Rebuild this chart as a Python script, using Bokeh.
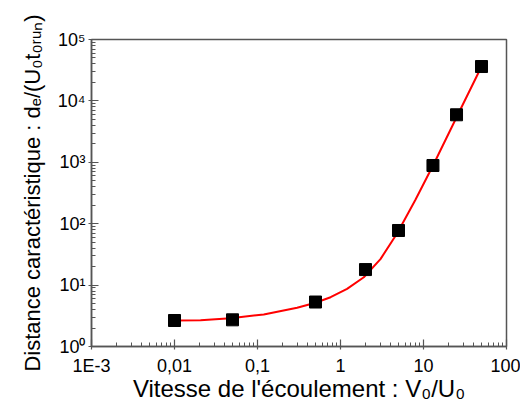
from bokeh.plotting import figure
from bokeh.models import FixedTicker, CustomJSTickFormatter, Range1d
from bokeh.embed import file_html
from bokeh.resources import INLINE

# ---- data ----
vitesse = [0.01, 0.05, 0.5, 2.0, 5.0, 13.0, 25.0, 50.0]
distance = [2.65, 2.72, 5.3, 17.9, 77.5, 887.0, 5940.0, 36300.0]

fit_x = [0.01, 0.0206, 0.0473, 0.119, 0.30, 0.5, 0.76, 1.2, 1.91, 3.03, 4.82, 8.0, 13.2, 25.9, 38.6, 50.0]
fit_y = [2.65, 2.68, 2.89, 3.32, 4.27, 5.15, 6.35, 8.7, 13.4, 26.5, 70.0, 245.0, 920.0, 5940.0, 17800.0, 36300.0]

x_ticks = [1e-3, 1e-2, 1e-1, 1.0, 10.0, 100.0]
x_tick_labels = ["1E-3", "0,01", "0,1", "1", "10", "100"]
y_ticks = [1.0, 10.0, 100.0, 1e3, 1e4, 1e5]

x_title = "Vitesse de l'\u00e9coulement : V\u2080/U\u2080"
y_title = "Distance caract\u00e9ristique : d\u2091/(U\u2080t\u2080\u1d63\u1d64\u2099)"

x_minor = [m * t for t in x_ticks[:-1] for m in range(2, 10)]
y_minor = [m * t for t in y_ticks[:-1] for m in range(2, 10)]

FONT = "Liberation Sans"
AXIS_COLOR = "#555555"

W, H = 520, 415
p = figure(width=W, height=H, x_axis_type="log", y_axis_type="log",
           x_range=Range1d(1e-3, 100), y_range=Range1d(1, 1e5),
           output_backend="svg", toolbar_location=None,
           min_border_left=91, min_border_right=14, min_border_top=39, min_border_bottom=69)
p.background_fill_color = "white"
p.border_fill_color = "white"
p.grid.visible = False
p.outline_line_color = AXIS_COLOR
p.outline_line_width = 1.5

p.line(fit_x, fit_y, line_color="#ff0000", line_width=2)
p.scatter(vitesse, distance, marker="square", size=12, fill_color="black", line_color="black")

xa = p.xaxis[0]
xa.ticker = FixedTicker(ticks=x_ticks, minor_ticks=x_minor)
xa.formatter = CustomJSTickFormatter(args=dict(labels=x_tick_labels), code="""
    const i = Math.round(Math.log10(tick)) + 3;
    return labels[i];
""")
ya = p.yaxis[0]
ya.ticker = FixedTicker(ticks=y_ticks, minor_ticks=y_minor)
ya.formatter = CustomJSTickFormatter(code="""
    const sup = {"0":"\u2070","1":"\u00b9","2":"\u00b2","3":"\u00b3","4":"\u2074","5":"\u2075","6":"\u2076","7":"\u2077","8":"\u2078","9":"\u2079","-":"\u207b"};
    const e = String(Math.round(Math.log10(tick)));
    return "10" + e.split("").map(c => sup[c]).join("");
""")
for ax in (xa, ya):
    ax.axis_line_color = AXIS_COLOR
    ax.axis_line_width = 1.5
    ax.major_tick_line_color = AXIS_COLOR
    ax.minor_tick_line_color = AXIS_COLOR
    ax.major_tick_line_width = 1.2
    ax.minor_tick_line_width = 1
    ax.major_tick_in = 7
    ax.major_tick_out = 3
    ax.minor_tick_in = 4
    ax.minor_tick_out = 0
    ax.major_label_text_font = FONT
    ax.major_label_text_font_size = "18px"
    ax.major_label_text_color = "black"
    ax.axis_label_text_font = FONT
    ax.axis_label_text_font_style = "normal"
    ax.axis_label_text_color = "black"
xa.axis_label_text_font_size = "24px"
ya.axis_label_text_font_size = "22px"
xa.major_label_standoff = 6
ya.major_label_standoff = 3
xa.axis_label = x_title
ya.axis_label = y_title
xa.axis_label_standoff = -4
ya.axis_label_standoff = 10

open("out.html", "w").write(file_html(p, INLINE))
